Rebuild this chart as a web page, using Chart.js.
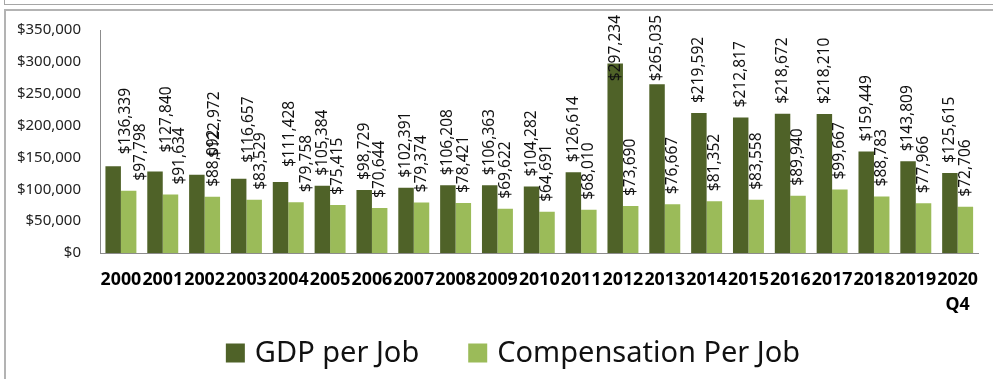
<!DOCTYPE html>
<html>
<head>
<meta charset="utf-8">
<script src="https://cdn.jsdelivr.net/npm/chart.js@4.4.0/dist/chart.umd.min.js"></script>
<style>
  body { margin: 0; background: #fff; overflow: hidden; }
  .box-above { position: absolute; left: 4px; top: -20px; width: 1100px; height: 23px; border: 1px solid #a6a6a6; }
  .box { position: absolute; left: 4px; top: 9px; width: 1100px; height: 500px; border: 2px solid #b3b3b3; }
  #wrap { position: absolute; left: 0; top: 0; width: 993px; height: 379px; }
</style>
</head>
<body>
<div class="box-above"></div>
<div class="box"></div>
<div id="wrap"><canvas id="gdpChart" width="993" height="379"></canvas></div>
<script>
// GDP vs compensation per job, 2000 - 2020 Q4
const years = ['2000', '2001', '2002', '2003', '2004', '2005', '2006', '2007', '2008', '2009',
  '2010', '2011', '2012', '2013', '2014', '2015', '2016', '2017', '2018', '2019', ['2020', 'Q4']];
const gdpPerJob = [136339, 127840, 122972, 116657, 111428, 105384, 98729, 102391, 106208, 106363,
  104282, 126614, 297234, 265035, 219592, 212817, 218672, 218210, 159449, 143809, 125615];
const compPerJob = [97798, 91634, 88092, 83529, 79758, 75415, 70644, 79374, 78421, 69622,
  64691, 68010, 73690, 76667, 81352, 83558, 89940, 99667, 88783, 77966, 72706];
const yTickValues = [0, 50000, 100000, 150000, 200000, 250000, 300000, 350000];

const money = v => '$' + v.toLocaleString('en-US');

// the first few value labels were dragged sideways/up by hand: [dx, extra lift]
const labelNudges = [
  [[12, 2], [12, 9], [18, 7], [10, 6], [9, 5]],
  [[12, 0], [9, 0], [1, 0], [6, 0], [11, 0]]
];

// vertical value labels above each bar, pushed down inside the bar if they would run off the top
const barValueLabels = {
  id: 'barValueLabels',
  afterDatasetsDraw(chart) {
    const ctx = chart.ctx;
    ctx.save();
    ctx.font = '15.5px "Noto Sans"';
    ctx.fillStyle = '#111';
    ctx.textAlign = 'left';
    ctx.textBaseline = 'middle';
    chart.data.datasets.forEach((ds, di) => {
      chart.getDatasetMeta(di).data.forEach((bar, i) => {
        const text = money(ds.data[i]);
        const w = ctx.measureText(text).width;
        const nudge = labelNudges[di][i] || [0, 0];
        let base = bar.y - 10 - nudge[1];
        if (base - w < 15) base = 15 + w;
        ctx.save();
        ctx.translate(bar.x + nudge[0], base);
        ctx.rotate(-Math.PI / 2);
        ctx.fillText(text, 0, 0);
        ctx.restore();
      });
    });
    ctx.restore();
  }
};

// big legend along the bottom
const bottomLegend = {
  id: 'bottomLegend',
  afterDraw(chart) {
    const ctx = chart.ctx;
    const box = 19, gapText = 10, gapItem = 49, cy = 353;
    ctx.save();
    ctx.font = '29px "Noto Sans"';
    ctx.textBaseline = 'middle';
    ctx.textAlign = 'left';
    const items = chart.data.datasets.map(ds => ({
      label: ds.label, color: ds.backgroundColor, w: ctx.measureText(ds.label).width
    }));
    const total = items.reduce((s, it) => s + box + gapText + it.w, 0) + gapItem * (items.length - 1);
    let x = 513 - total / 2;
    items.forEach(it => {
      ctx.fillStyle = it.color;
      ctx.fillRect(x, cy - box / 2, box, box);
      ctx.fillStyle = '#111';
      ctx.fillText(it.label, x + box + gapText, cy + 1);
      x += box + gapText + it.w + gapItem;
    });
    ctx.restore();
  }
};

const ctx = document.getElementById('gdpChart').getContext('2d');
new Chart(ctx, {
  type: 'bar',
  data: {
    labels: years,
    datasets: [{
      label: 'GDP per Job',
      data: gdpPerJob,
      backgroundColor: '#4F6228',
      categoryPercentage: 0.74,
      barPercentage: 1
    }, {
      label: 'Compensation Per Job',
      data: compPerJob,
      backgroundColor: '#9BBB59',
      categoryPercentage: 0.74,
      barPercentage: 1
    }]
  },
  options: {
    responsive: false,
    animation: false,
    layout: { padding: { top: 30, left: 0, right: 1, bottom: 60 } },
    plugins: {
      legend: { display: false },
      tooltip: { enabled: false }
    },
    scales: {
      x: {
        grid: { display: false, drawTicks: false },
        border: { display: true, color: '#8c8c8c', width: 1 },
        ticks: {
          autoSkip: false,
          maxRotation: 0,
          minRotation: 0,
          padding: 15,
          color: '#000',
          font: { family: 'Noto Sans', size: 17.8, weight: 'bold', lineHeight: 1.38 }
        },
        afterFit(scale) { scale.height = 66; }
      },
      y: {
        min: 0,
        max: 350000,
        grid: { display: false, drawTicks: false },
        border: { display: true, color: '#8c8c8c', width: 1 },
        afterBuildTicks(scale) { scale.ticks = yTickValues.map(v => ({ value: v })); },
        ticks: {
          padding: 19,
          color: '#222',
          font: { family: 'Noto Sans', size: 15 },
          callback: v => money(v)
        },
        afterFit(scale) { scale.width = 100; }
      }
    }
  },
  plugins: [barValueLabels, bottomLegend]
});
</script>
</body>
</html>
